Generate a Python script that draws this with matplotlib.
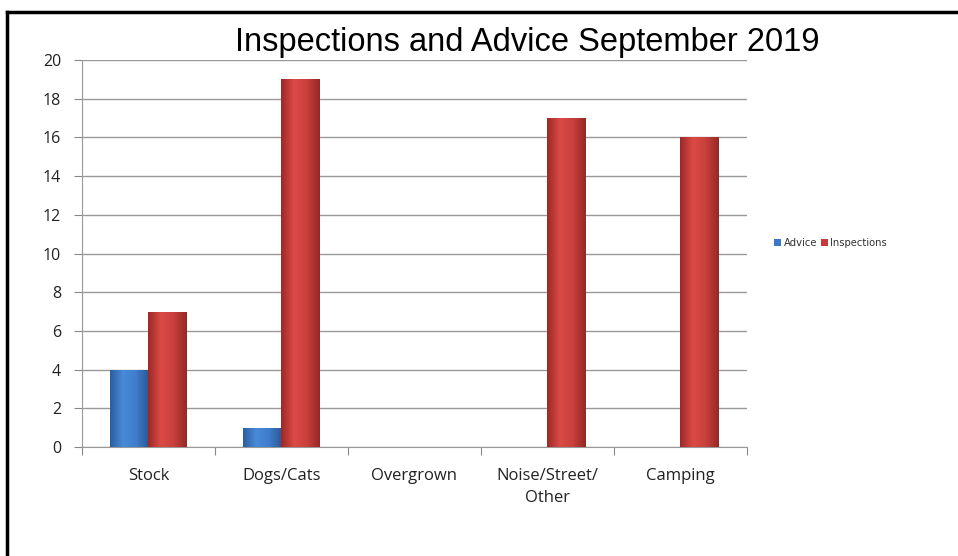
import matplotlib.pyplot as plt
import numpy as np
from matplotlib.colors import LinearSegmentedColormap

categories = ['Stock', 'Dogs/Cats', 'Overgrown', 'Noise/Street/\nOther', 'Camping']
advice = [4, 1, 0, 0, 0]
inspections = [7, 19, 0, 17, 16]

blue = '#3c78c8'
red = '#c83a38'
blue_cmap = LinearSegmentedColormap.from_list('b', ['#2b5e9e', '#4a8ad8', '#3f7dcc', '#2a5a98'])
red_cmap = LinearSegmentedColormap.from_list('r', ['#9c2a28', '#dc4a46', '#c8403c', '#962826'])

fig = plt.figure(figsize=(9.58, 5.56), dpi=100)
ax = fig.add_axes([0.0856, 0.196, 0.6941, 0.696])

x = np.arange(len(categories))
w = 0.29
grad = np.linspace(0, 1, 64).reshape(1, -1)


def shaded(bars, cmap):
    for b in bars:
        if b.get_height() <= 0:
            b.set_visible(False)
            continue
        im = ax.imshow(grad, cmap=cmap, aspect='auto', zorder=3,
                       extent=[b.get_x(), b.get_x() + b.get_width(), 0, b.get_height()])
        im.set_clip_path(b)


b1 = ax.bar(x - w / 2, advice, w, color=blue, zorder=2, label='Advice')
b2 = ax.bar(x + w / 2, inspections, w, color=red, zorder=2, label='Inspections')
shaded(b1, blue_cmap)
shaded(b2, red_cmap)

ax.set_xlim(-0.5, len(categories) - 0.5)
ax.set_ylim(0, 20)
ax.set_yticks(range(0, 21, 2))
ax.set_xticks(np.arange(len(categories) + 1) - 0.5, minor=False)
ax.set_xticklabels([])
ax.set_xticks(x, minor=True)
ax.set_xticklabels(categories, minor=True, fontsize=12, family='Open Sans', color='#222222',
                   linespacing=1.55, va='top')
ax.tick_params(axis='x', which='minor', length=0, pad=15)
ax.tick_params(axis='x', which='major', length=6, color='#888888', direction='out')
ax.tick_params(axis='y', length=6, color='#888888', labelsize=11.5, pad=9, labelcolor='#222222')
for t in ax.get_yticklabels():
    t.set_family('Open Sans')

ax.grid(axis='y', color='#999999', linewidth=1, zorder=0)
ax.set_axisbelow(True)
for s in ['top', 'right']:
    ax.spines[s].set_visible(False)
ax.spines['left'].set_color('#999999')
ax.spines['bottom'].set_color('#999999')

fig.text(0.55, 0.895, 'Inspections and Advice September 2019', ha='center', va='bottom',
         fontsize=23.5, family=['Liberation Sans Narrow', 'Liberation Sans', 'DejaVu Sans'])

leg = fig.legend(handles=[b1, b2], loc='center', bbox_to_anchor=(0.867, 0.563), ncol=2,
                 frameon=False, fontsize=7.2, handlelength=0.7, handleheight=0.7,
                 handletextpad=0.2, columnspacing=0.4)
for t in leg.get_texts():
    t.set_color('#333333')

# outer chart frame
fig.add_artist(plt.Line2D([0.0075, 0.0075], [0, 0.978], color='black', lw=2.5))
fig.add_artist(plt.Line2D([0.0075, 1.0], [0.978, 0.978], color='black', lw=2.5))

fig.savefig('out.png', dpi=100)
